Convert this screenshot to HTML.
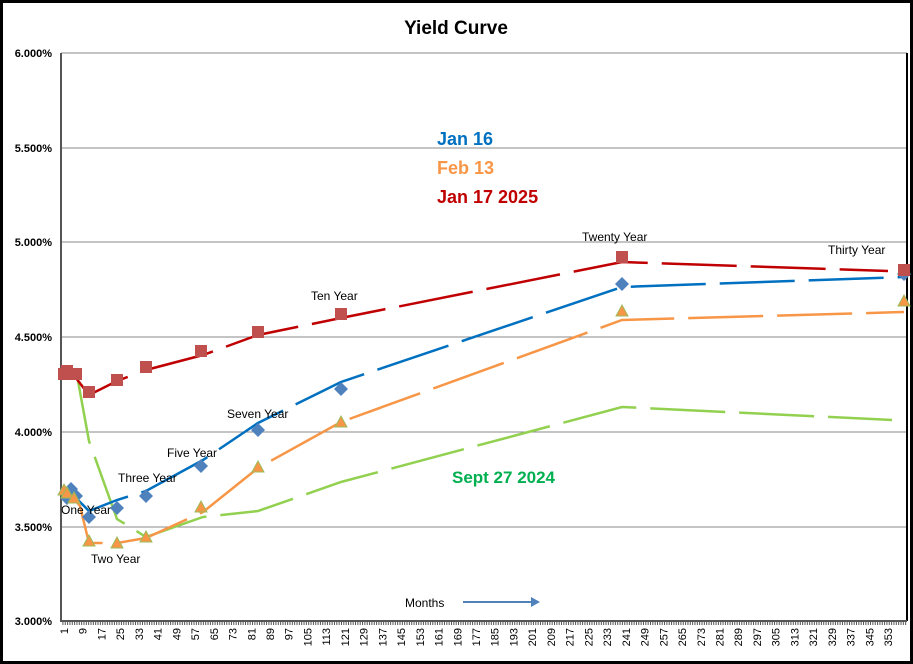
<!DOCTYPE html>
<html><head><meta charset="utf-8"><style>
body{margin:0;background:#fff}
svg{display:block}
text{font-family:"Liberation Sans",sans-serif}
</style></head><body>
<svg width="913" height="664" viewBox="0 0 913 664">
<rect x="1.5" y="1.5" width="910" height="661" fill="#fff" stroke="#000" stroke-width="3"/>
<text x="456" y="34" text-anchor="middle" font-size="19" font-weight="bold">Yield Curve</text>
<g stroke="#888" stroke-width="1">
<line x1="61" y1="53" x2="907" y2="53"/>
<line x1="61" y1="148" x2="907" y2="148"/>
<line x1="61" y1="242" x2="907" y2="242"/>
<line x1="61" y1="337" x2="907" y2="337"/>
<line x1="61" y1="432" x2="907" y2="432"/>
<line x1="61" y1="527" x2="907" y2="527"/>
</g>
<line x1="907" y1="53" x2="907" y2="621" stroke="#000" stroke-width="2"/>
<line x1="61" y1="53" x2="61" y2="622" stroke="#555" stroke-width="2"/>
<line x1="61" y1="621" x2="907" y2="621" stroke="#555" stroke-width="2"/>
<g font-size="11" font-weight="bold" text-anchor="end">
<text x="52" y="57">6.000%</text><text x="52" y="152">5.500%</text>
<text x="52" y="246">5.000%</text><text x="52" y="341">4.500%</text>
<text x="52" y="436">4.000%</text><text x="52" y="531">3.500%</text>
<text x="52" y="625">3.000%</text>
</g>
<g id="xl" font-size="11"></g>
<g id="ticks" stroke="#555"></g>
<!-- green -->
<polyline fill="none" stroke="#92d050" stroke-width="2.5" stroke-dasharray="75 14" points="76,370 89,441 117,519 146,537 203,517 258,511 341,482 622,407 892,420"/>
<!-- orange -->
<polyline fill="none" stroke="#f79646" stroke-width="2.5" stroke-dasharray="75 14" points="64,489 75,500 80,506 89,543 117,543 146,538 203,512 258,468 341,422 622,320 904,312"/>
<!-- blue -->
<polyline fill="none" stroke="#0070c0" stroke-width="2.5" stroke-dasharray="75 14" points="64,489 75,497 89,511 117,500 146,491 203,460 258,423 341,382 622,287 904,277"/>
<!-- red -->
<polyline fill="none" stroke="#c00000" stroke-width="2.5" stroke-dasharray="75 14" points="67,372 76,378 89,395 117,381 146,370 203,355 258,335 341,318 622,262 888,271"/>
<g fill="#4f81bd">
<path d="M64,489l7,-7l7,7l-7,7z"/><path d="M60,498l7,-7l7,7l-7,7z"/><path d="M69,496l7,-7l7,7l-7,7z"/>
<path d="M82,517l7,-7l7,7l-7,7z"/><path d="M110,508l7,-7l7,7l-7,7z"/><path d="M139,496l7,-7l7,7l-7,7z"/>
<path d="M194,466l7,-7l7,7l-7,7z"/><path d="M251,430l7,-7l7,7l-7,7z"/><path d="M334,389l7,-7l7,7l-7,7z"/>
<path d="M615,284l7,-7l7,7l-7,7z"/><path d="M897,274l7,-7l7,7l-7,7z"/>
</g>
<g fill="#c0504d">
<rect x="58" y="368" width="12" height="12"/><rect x="61" y="365" width="12" height="12"/><rect x="70" y="368" width="12" height="12"/>
<rect x="83" y="386" width="12" height="12"/><rect x="111" y="374" width="12" height="12"/><rect x="140" y="361" width="12" height="12"/>
<rect x="195" y="345" width="12" height="12"/><rect x="252" y="326" width="12" height="12"/><rect x="335" y="308" width="12" height="12"/>
<rect x="616" y="251" width="12" height="12"/><rect x="898" y="264" width="12" height="12"/>
</g>
<g fill="#f79646" stroke="#9bbb59" stroke-width="1">
<path d="M64,484l6,11h-12z"/><path d="M67,487l6,11h-12z"/><path d="M74,492l6,11h-12z"/>
<path d="M89,535l6,11h-12z"/><path d="M117,537l6,11h-12z"/><path d="M146,531l6,11h-12z"/>
<path d="M201,501l6,11h-12z"/><path d="M258,461l6,11h-12z"/><path d="M341,416l6,11h-12z"/>
<path d="M622,305l6,11h-12z"/><path d="M904,295l6,11h-12z"/>
</g>
<g font-size="12">
<text x="61" y="514">One Year</text>
<text x="91" y="563">Two Year</text>
<text x="118" y="482">Three Year</text>
<text x="167" y="457">Five Year</text>
<text x="227" y="418">Seven Year</text>
<text x="311" y="300">Ten Year</text>
<text x="582" y="241">Twenty Year</text>
<text x="828" y="254">Thirty Year</text>
<text x="405" y="607">Months</text>
</g>
<line x1="463" y1="602" x2="532" y2="602" stroke="#4f81bd" stroke-width="2"/>
<path d="M531,597l9,5l-9,5z" fill="#4f81bd"/>
<g font-size="18" font-weight="bold">
<text x="437" y="145" fill="#0070c0">Jan 16</text>
<text x="437" y="174" fill="#f79646">Feb 13</text>
<text x="437" y="203" fill="#c00000">Jan 17 2025</text>
<text x="452" y="483" fill="#00b050" font-size="17">Sept 27 2024</text>
</g>
</svg>
<script>
var xl=document.getElementById('xl'),tk=document.getElementById('ticks'),ns='http://www.w3.org/2000/svg';
for(var m=1;m<=361;m++){var x=61.7+2.341*(m-1)+1.2;var l=document.createElementNS(ns,'line');l.setAttribute('x1',x);l.setAttribute('x2',x);l.setAttribute('y1',621);l.setAttribute('y2',625);tk.appendChild(l);}
for(var m=1;m<=353;m+=8){var x=64+2.341*(m-1)+4;var t=document.createElementNS(ns,'text');t.setAttribute('transform','translate('+x+',628) rotate(-90)');t.setAttribute('text-anchor','end');t.textContent=m;xl.appendChild(t);}
</script>
</body></html>
